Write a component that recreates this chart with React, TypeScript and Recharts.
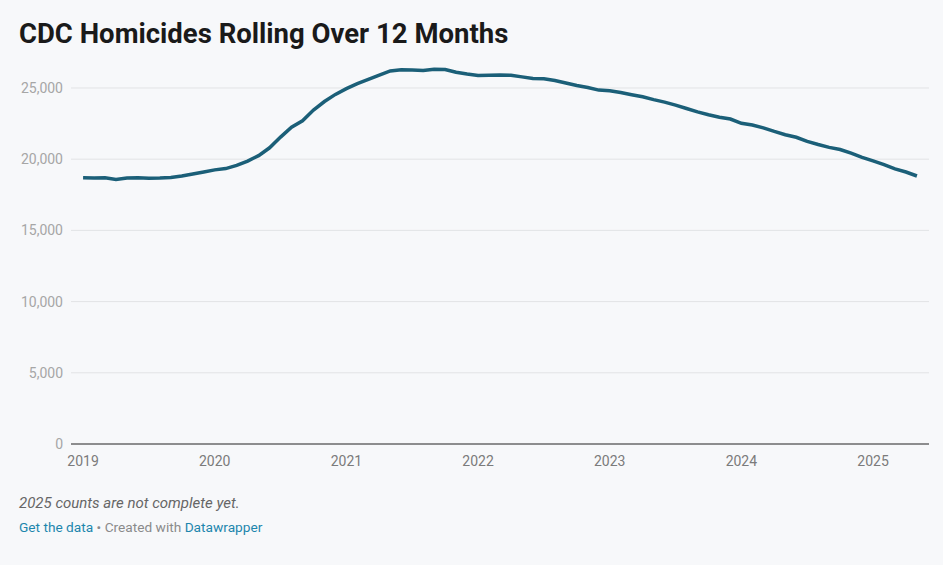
import React from 'react';
import {
  LineChart, Line, XAxis, YAxis, ReferenceLine
} from 'recharts';

// monthly index: 0 = Jan 2019
const months: number[] = Array.from({ length: 77 }, (_, i) => i);

// rolling 12-month homicide counts, Jan 2019 .. May 2025
const homicides: number[] = [
  18700, 18680, 18690, 18580, 18680, 18690, 18660, 18680, 18720, 18820, 18960, 19100,
  19250, 19340, 19560, 19870, 20250, 20800, 21550, 22250, 22700, 23450, 24050, 24550,
  24950, 25300, 25600, 25900, 26200, 26280, 26270, 26220, 26320, 26300, 26100, 25980,
  25880, 25900, 25910, 25900, 25780, 25670, 25640, 25520, 25350, 25170, 25030, 24850,
  24800, 24680, 24530, 24380, 24180, 24010, 23800, 23560, 23320, 23120, 22950, 22820,
  22520, 22400, 22200, 21950, 21720, 21540, 21250, 21030, 20830, 20680, 20420, 20130,
  19880, 19620, 19320, 19100, 18820,
];

const yearTicks = [0, 12, 24, 36, 48, 60, 72];
const yearLabels = ['2019', '2020', '2021', '2022', '2023', '2024', '2025'];
const valueTicks = [0, 5000, 10000, 15000, 20000, 25000];

const data = months.map((m, i) => ({ month: m, value: homicides[i] }));

const FONT = 'Roboto, "Noto Sans", sans-serif';
const LINK = '#1d86ad';

export default function App() {
  return (
    <div
      style={{
        position: 'absolute', left: 0, top: 0, width: 943, height: 565,
        background: '#f7f8fa', fontFamily: FONT, overflow: 'hidden',
      }}
    >
      {/* title */}
      <div
        style={{
          position: 'absolute', left: 19, top: 17, fontSize: 27.5,
          fontWeight: 700, color: '#1a1a1a', whiteSpace: 'nowrap', lineHeight: 'normal',
        }}
      >
        CDC Homicides Rolling Over 12 Months
      </div>

      <div style={{ position: 'absolute', left: 0, top: 0 }}>
        <LineChart
          width={943}
          height={474}
          data={data}
          margin={{ top: 59.5, right: 14, bottom: 0, left: 11 }}
        >
          <XAxis
            dataKey="month"
            type="number"
            domain={[-1.1, 77.1]}
            ticks={yearTicks}
            tickFormatter={(v) => yearLabels[yearTicks.indexOf(v)] ?? ''}
            tickLine={false}
            axisLine={false}
            tickMargin={6}
            height={30}
            tick={{ fill: '#7b7b7b', fontSize: 14, fontFamily: FONT }}
          />
          <YAxis
            type="number"
            domain={[0, 27000]}
            ticks={valueTicks}
            allowDataOverflow
            tickFormatter={(v) => v.toLocaleString('en-US')}
            tickLine={false}
            axisLine={false}
            width={60}
            tick={{ fill: '#a6a6a6', fontSize: 14, fontFamily: FONT }}
          />
          {/* horizontal gridlines, black baseline at 0 */}
          {valueTicks.map((t) => (
            <ReferenceLine
              key={t}
              y={t}
              stroke={t === 0 ? '#222' : '#e2e3e5'}
              strokeWidth={1}
            />
          ))}
          <Line
            type="linear"
            dataKey="value"
            stroke="#1b5f78"
            strokeWidth={3.5}
            dot={false}
            isAnimationActive={false}
          />
        </LineChart>
      </div>

      {/* footer */}
      <div
        style={{
          position: 'absolute', left: 19, top: 494, fontSize: 15,
          fontStyle: 'italic', color: '#666',
        }}
      >
        2025 counts are not complete yet.
      </div>
      <div
        style={{
          position: 'absolute', left: 19, top: 519, fontSize: 13.7, color: '#8a8a8a',
        }}
      >
        <span style={{ color: LINK }}>Get the data</span>
        {' • Created with '}
        <span style={{ color: LINK }}>Datawrapper</span>
      </div>
    </div>
  );
}
